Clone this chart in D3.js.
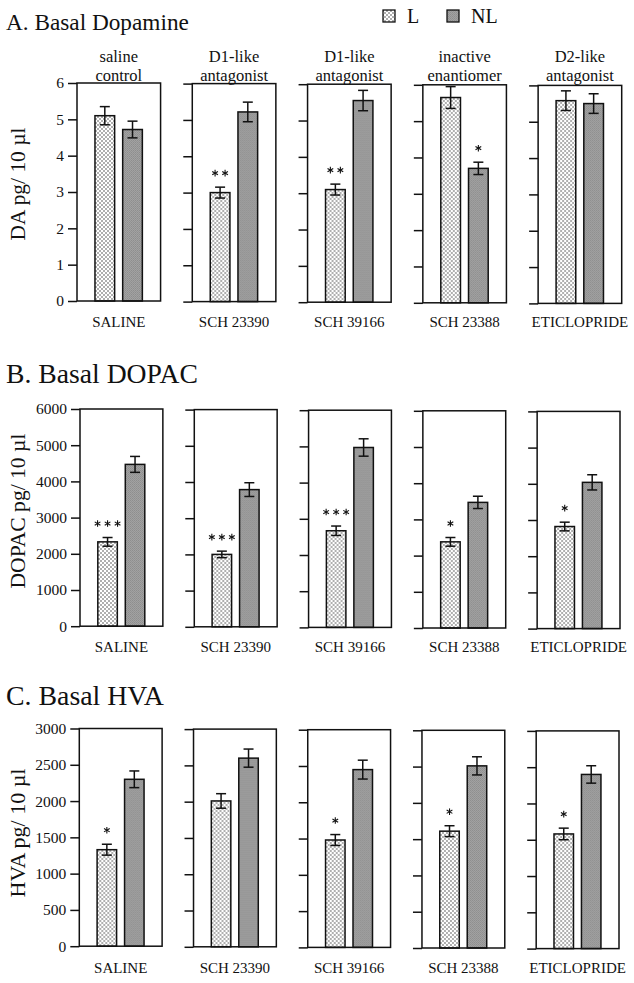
<!DOCTYPE html>
<html>
<head>
<meta charset="utf-8">
<script src="https://cdn.jsdelivr.net/npm/d3@7"></script>
<style>
  html,body{margin:0;padding:0;background:#fff;}
  svg{display:block;}
  text{font-family:"Liberation Serif","Times New Roman",Times,serif;fill:#111;}
</style>
</head>
<body>
<script>
// ---------------- DATA ----------------
const drugs = ["SALINE", "SCH 23390", "SCH 39166", "SCH 23388", "ETICLOPRIDE"];
const classTop = ["saline", "D1-like", "D1-like", "inactive", "D2-like"];
const classBottom = ["control", "antagonist", "antagonist", "enantiomer", "antagonist"];
const groups = ["L", "NL"];

// A. Basal Dopamine (pg / 10 µl)
const daL      = [5.10, 3.00, 3.10, 5.65, 5.58];
const daLErr   = [0.25, 0.15, 0.15, 0.30, 0.27];
const daNL     = [4.72, 5.22, 5.55, 3.70, 5.50];
const daNLErr  = [0.23, 0.27, 0.28, 0.17, 0.27];
const daLSig   = ["", "**", "**", "", ""];
const daNLSig  = ["", "", "", "*", ""];
const daTicks  = [0, 1, 2, 3, 4, 5, 6];

// B. Basal DOPAC
const dopacL     = [2330, 2000, 2670, 2380, 2820];
const dopacLErr  = [120, 90, 130, 120, 120];
const dopacNL    = [4470, 3790, 4970, 3470, 4040];
const dopacNLErr = [220, 190, 240, 170, 210];
const dopacLSig  = ["***", "***", "***", "*", "*"];
const dopacNLSig = ["", "", "", "", ""];
const dopacTicks = [0, 1000, 2000, 3000, 4000, 5000, 6000];

// C. Basal HVA
const hvaL     = [1330, 2010, 1480, 1610, 1580];
const hvaLErr  = [75, 100, 75, 75, 80];
const hvaNL    = [2300, 2600, 2450, 2510, 2400];
const hvaNLErr = [115, 125, 130, 125, 120];
const hvaLSig  = ["*", "", "*", "*", "*"];
const hvaNLSig = ["", "", "", "", ""];
const hvaTicks = [0, 500, 1000, 1500, 2000, 2500, 3000];

// ---------------- LAYOUT ----------------
const W = 634, H = 983;
const panels = [
  {title: "A. Basal Dopamine", titleW: 183, titleY: 29.5, yTitle: "DA pg/ 10 µl", yTitleW: 113, yTitleCy: 184,
   top: 83, bottom: 301, left: 77, right: 621.7, xLabelY: 326.7,
   ticks: daTicks, L: daL, LE: daLErr, NL: daNL, NLE: daNLErr, LS: daLSig, NLS: daNLSig, classes: true},
  {title: "B. Basal DOPAC", titleW: 192, titleY: 383.3, yTitle: "DOPAC pg/ 10 µl", yTitleW: 155, yTitleCy: 511,
   top: 409, bottom: 626.2, left: 80, right: 620, xLabelY: 651.7,
   ticks: dopacTicks, L: dopacL, LE: dopacLErr, NL: dopacNL, NLE: dopacNLErr, LS: dopacLSig, NLS: dopacNLSig, classes: false},
  {title: "C. Basal HVA", titleW: 158, titleY: 705, yTitle: "HVA pg/ 10 µl", yTitleW: 129, yTitleCy: 833,
   top: 728.5, bottom: 946.2, left: 79.3, right: 619, xLabelY: 973.3,
   ticks: hvaTicks, L: hvaL, LE: hvaLErr, NL: hvaNL, NLE: hvaNLErr, LS: hvaLSig, NLS: hvaNLSig, classes: false}
];
const skew = 0.6; // slight vertical drift per subpanel (scan)

const svg = d3.select("body").append("svg").attr("width", W).attr("height", H);
svg.append("rect").attr("width", W).attr("height", H).attr("fill", "#fff");

// fit a text element's font size to a target width
function fitText(sel, target, base) {
  sel.attr("font-size", base);
  const w = sel.node().getComputedTextLength();
  if (w > 0) sel.attr("font-size", base * target / w);
}

const defs = svg.append("defs");
const pat = defs.append("pattern").attr("id", "dots").attr("patternUnits", "userSpaceOnUse")
  .attr("width", 4).attr("height", 4);
pat.append("rect").attr("width", 4).attr("height", 4).attr("fill", "#fff");
pat.append("circle").attr("cx", 1).attr("cy", 1).attr("r", 0.7).attr("fill", "#222");
pat.append("circle").attr("cx", 3).attr("cy", 3).attr("r", 0.7).attr("fill", "#222");
const pat2 = defs.append("pattern").attr("id", "gray").attr("patternUnits", "userSpaceOnUse")
  .attr("width", 2).attr("height", 2);
pat2.append("rect").attr("width", 2).attr("height", 2).attr("fill", "#a2a2a2");
pat2.append("rect").attr("width", 1).attr("height", 1).attr("fill", "#8e8e8e");
pat2.append("rect").attr("x", 1).attr("y", 1).attr("width", 1).attr("height", 1).attr("fill", "#949494");

const fills = {L: "url(#dots)", NL: "url(#gray)"};

// Legend
const legend = svg.append("g");
[{g: "L", x: 383, tx: 407}, {g: "NL", x: 447, tx: 471}].forEach(d => {
  legend.append("rect").attr("x", d.x).attr("y", 10).attr("width", 12).attr("height", 12)
    .attr("fill", fills[d.g]).attr("stroke", "#111").attr("stroke-width", 1.3);
  legend.append("text").attr("x", d.tx).attr("y", 23).attr("font-size", 20).text(d.g);
});

// asterisk drawn as 6 spokes
function asterisk(parent, cx, cy) {
  const r = 3.3;
  const a = parent.append("g").attr("stroke", "#111").attr("stroke-width", 1.1);
  [90, 30, -30].forEach(deg => {
    const t = deg * Math.PI / 180;
    a.append("line").attr("x1", cx - r * Math.cos(t)).attr("y1", cy - r * Math.sin(t))
      .attr("x2", cx + r * Math.cos(t)).attr("y2", cy + r * Math.sin(t));
  });
}

panels.forEach(p => {
  const g = svg.append("g");
  const tt = g.append("text").attr("x", 6).attr("y", p.titleY).text(p.title);
  fitText(tt, p.titleW, 24);
  const yt = g.append("text")
    .attr("transform", `translate(25,${p.yTitleCy}) rotate(-90)`)
    .attr("text-anchor", "middle").text(p.yTitle);
  fitText(yt, p.yTitleW, 21);

  const xSub = d3.scaleBand().domain(drugs).range([p.left, p.right]).paddingInner(0.275).paddingOuter(0);
  const bw = xSub.bandwidth();
  const xIn = d3.scaleBand().domain(groups).range([bw * 0.215, bw * 0.782]).paddingInner(0.29);

  drugs.forEach((drug, i) => {
    const dy = i * skew;
    const y = d3.scaleLinear().domain([0, d3.max(p.ticks)]).range([p.bottom + dy, p.top + dy]);
    const sg = g.append("g").attr("transform", `translate(${xSub(drug)},0)`);
    const vals = [
      {g: "L", v: p.L[i], e: p.LE[i], s: p.LS[i]},
      {g: "NL", v: p.NL[i], e: p.NLE[i], s: p.NLS[i]}
    ];
    // bars
    sg.selectAll("rect.bar").data(vals).join("rect").attr("class", "bar")
      .attr("x", d => xIn(d.g)).attr("width", xIn.bandwidth())
      .attr("y", d => y(d.v)).attr("height", d => y(0) - y(d.v))
      .attr("fill", d => fills[d.g]).attr("stroke", "#111").attr("stroke-width", 1.5);
    // error bars
    const cap = 5;
    vals.forEach(d => {
      const cx = xIn(d.g) + xIn.bandwidth() / 2;
      const eg = sg.append("g").attr("stroke", "#111").attr("stroke-width", 1.5);
      eg.append("line").attr("x1", cx).attr("x2", cx).attr("y1", y(d.v - d.e)).attr("y2", y(d.v + d.e));
      eg.append("line").attr("x1", cx - cap).attr("x2", cx + cap).attr("y1", y(d.v + d.e)).attr("y2", y(d.v + d.e));
      eg.append("line").attr("x1", cx - cap).attr("x2", cx + cap).attr("y1", y(d.v - d.e)).attr("y2", y(d.v - d.e));
      if (d.s) {
        const n = d.s.length, sp = 10;
        for (let k = 0; k < n; k++) {
          asterisk(sg, cx + (k - (n - 1) / 2) * sp, y(d.v + d.e) - 14);
        }
      }
    });
    // frame
    sg.append("rect").attr("x", 0).attr("y", y(d3.max(p.ticks))).attr("width", bw)
      .attr("height", y(0) - y(d3.max(p.ticks)))
      .attr("fill", "none").attr("stroke", "#111").attr("stroke-width", 1.5);
    // axis
    const ax = d3.axisLeft(y).tickValues(p.ticks).tickSize(9).tickSizeOuter(0).tickPadding(4)
      .tickFormat(i > 0 ? () => "" : d3.format("d"));
    const ag = sg.append("g").call(ax);
    ag.select(".domain").remove();
    ag.selectAll(".tick line").attr("stroke", "#111").attr("stroke-width", 1.5);
    ag.selectAll(".tick text").attr("font-size", 15.5)
      .attr("font-family", "'Liberation Serif','Times New Roman',serif").attr("fill", "#111");
    // x label
    sg.append("text").attr("x", bw / 2).attr("y", p.xLabelY).attr("text-anchor", "middle")
      .attr("font-size", 15).text(drug);
    // class labels
    if (p.classes) {
      sg.append("text").attr("x", bw / 2).attr("y", 61.8).attr("text-anchor", "middle")
        .attr("font-size", 16.5).text(classTop[i]);
      sg.append("text").attr("x", bw / 2).attr("y", 80.8).attr("text-anchor", "middle")
        .attr("font-size", 16.5).text(classBottom[i]);
    }
  });
});
</script>
</body>
</html>
